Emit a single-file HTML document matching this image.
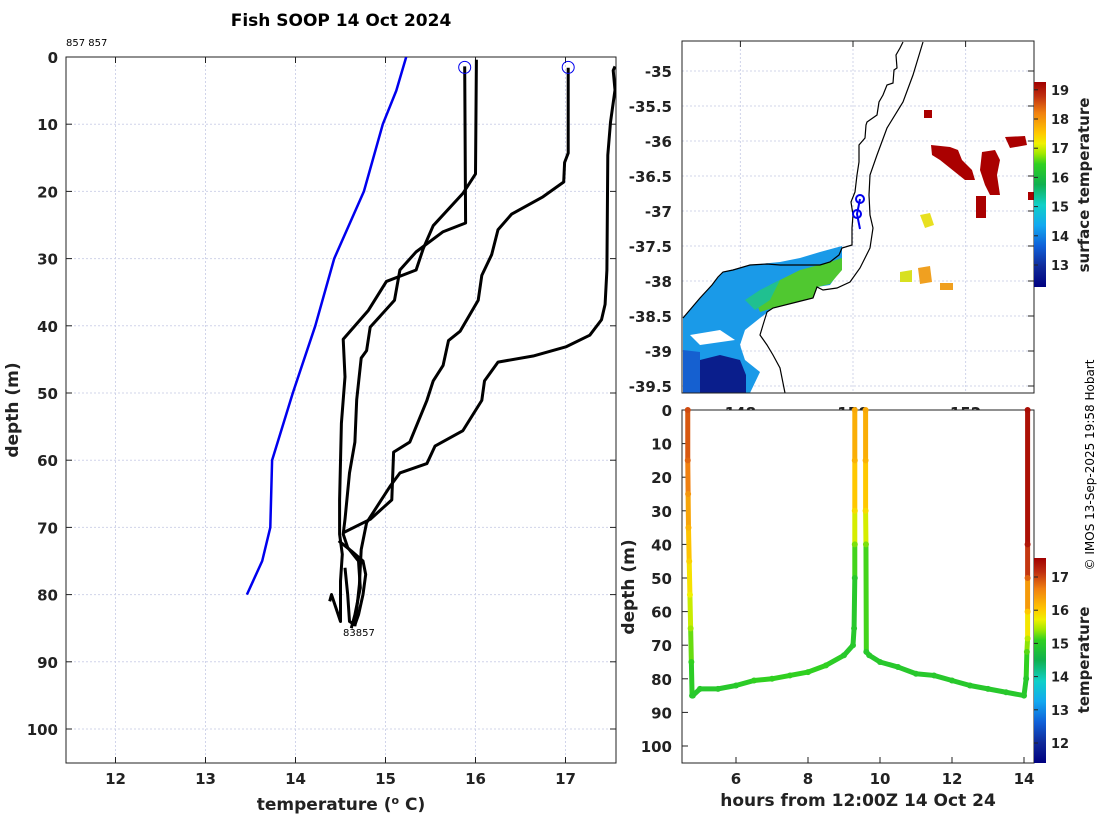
<!DOCTYPE html>
<html><head><meta charset="utf-8">
<style>
html,body{margin:0;padding:0;background:#fff;}
svg{display:block;font-family:"DejaVu Sans","Liberation Sans",sans-serif;}
.tk{font-size:15px;font-weight:bold;fill:#222;}
.lb{font-size:17px;font-weight:bold;fill:#222;}
.grid{stroke:#d0d4ea;stroke-width:1;stroke-dasharray:2,2;}
</style></head>
<body>
<svg id="fig" width="1100" height="820" viewBox="0 0 1100 820">
<defs>
<linearGradient id="jet" x1="0" y1="1" x2="0" y2="0">
<stop offset="0" stop-color="#000080"/><stop offset="0.1" stop-color="#102a9a"/>
<stop offset="0.2" stop-color="#1060d8"/><stop offset="0.3" stop-color="#12a8f0"/>
<stop offset="0.4" stop-color="#10d0c8"/><stop offset="0.5" stop-color="#10b050"/>
<stop offset="0.6" stop-color="#30d020"/><stop offset="0.65" stop-color="#a0e800"/>
<stop offset="0.7" stop-color="#f0f000"/><stop offset="0.75" stop-color="#ffc800"/>
<stop offset="0.85" stop-color="#f08010"/><stop offset="0.93" stop-color="#c03010"/>
<stop offset="1" stop-color="#a00000"/>
</linearGradient>
<clipPath id="clipL"><rect x="66" y="57" width="550" height="706"/></clipPath>
<clipPath id="clipM"><rect x="682" y="41" width="352" height="352"/></clipPath>
</defs>
<text x="341" y="26" text-anchor="middle" style="font-size:17px;font-weight:bold">Fish SOOP 14 Oct 2024</text>
<text x="66" y="46" style="font-size:10px">857 857</text>
<g id="left"></g>
<g id="map"></g>
<g id="br"></g>
<text transform="translate(1094,465) rotate(-90)" text-anchor="middle" style="font-size:12px">© IMOS 13-Sep-2025 19:58 Hobart</text>
</svg>
<script>
// ---------- Left panel data ----------
const blueT=[15.23,15.12,14.97,14.76,14.43,14.22,13.97,13.74,13.72,13.63,13.46];
const blueD=[0,5,10,20,30,40,50,60,70,75,80];
const profAT=[15.88,15.89,15.64,15.34,15.16,15.10,14.83,14.79,14.73,14.68,14.66,14.60,14.55,14.53,14.58,14.70,14.72,14.66,14.62];
const profAD=[1.4,24.7,26,29,31.7,36.2,40.2,43.7,44.8,51,57.3,61.9,68.8,71,73,75,79,83,85];
const profBT=[16.01,16.0,15.86,15.53,15.42,15.34,15.01,14.81,14.53,14.55,14.51,14.49,14.49,14.52,14.50,14.50,14.40,14.38];
const profBD=[0.4,17.4,20.3,25.1,28.5,31.7,33.4,37.7,42,47.6,54.5,65.9,71,74,78,84,80,81];
const profCT=[17.03,17.03,16.99,16.98,16.75,16.40,16.25,16.18,16.07,16.03,15.83,15.70,15.64,15.53,15.46,15.27,15.09,15.07,14.83,14.53];
const profCD=[1.6,14.3,15.7,18.6,20.8,23.4,25.7,29.4,32.5,36.2,40.8,42.2,45.9,48.2,51.1,57.3,58.8,65.9,68.8,70.8];
const profDT=[17.55,17.53,17.55,17.50,17.47,17.46,17.44,17.40,17.27,17.01,16.64,16.25,16.10,16.07,15.86,15.55,15.46,15.16,15.05,14.79,14.73,14.71,14.66];
const profDD=[1.4,2,4.9,9.7,14.6,31.7,36.8,39.1,41.4,43.1,44.5,45.4,48.2,51.1,55.6,57.9,60.5,61.9,63.9,69.3,73.3,78.5,84.7];
const loopT=[14.48,14.62,14.75,14.78,14.75,14.70,14.66,14.60,14.58,14.55];
const loopD=[72,73.5,75,77,80,83,84.5,84,80,76];
const tickT=[12,13,14,15,16,17];
const tickD=[0,10,20,30,40,50,60,70,80,90,100];
const circT=[15.88,17.03];
const circD=[1.4,1.4];

const NS='http://www.w3.org/2000/svg';
function mk(tag,attrs,parent){const e=document.createElementNS(NS,tag);for(const k in attrs)e.setAttribute(k,attrs[k]);parent.appendChild(e);return e;}
const xL=t=>66+(t-11.45)*90;
const yL=d=>57+d*6.72;
const L=document.getElementById('left');
tickT.forEach(t=>{const g=mk('line',{x1:xL(t),x2:xL(t),y1:57,y2:763,class:'grid'},L);

});
tickD.forEach(d=>{const g=mk('line',{x1:66,x2:616,y1:yL(d),y2:yL(d),class:'grid'},L);

});
const fr=mk('rect',{x:66,y:57,width:550,height:706,fill:'none',stroke:'#222','stroke-width':1},L);


tickT.forEach(t=>{mk('line',{x1:xL(t),x2:xL(t),y1:57,y2:63,stroke:'#222'},L);mk('line',{x1:xL(t),x2:xL(t),y1:763,y2:757,stroke:'#222'},L);
const tx=mk('text',{x:xL(t),y:784,'text-anchor':'middle',class:'tk'},L);tx.textContent=t;

});
tickD.forEach(d=>{mk('line',{x1:66,x2:72,y1:yL(d),y2:yL(d),stroke:'#222'},L);mk('line',{x1:616,x2:610,y1:yL(d),y2:yL(d),stroke:'#222'},L);
const tx=mk('text',{x:58,y:yL(d)+6,'text-anchor':'end',class:'tk'},L);tx.textContent=d;

});
function line(T,D,color,w,name){const p=mk('polyline',{points:T.map((t,i)=>xL(t)+','+yL(D[i])).join(' '),fill:'none',stroke:color,'stroke-width':w,'stroke-linejoin':'round','clip-path':'url(#clipL)'},L);

}
line(blueT,blueD,'#0000ee',2.5,'climatology-profile');
line(profAT,profAD,'#000',3,'xbt-profile-a');
line(profBT,profBD,'#000',3,'xbt-profile-b');
line(profCT,profCD,'#000',3,'xbt-profile-c');
line(profDT,profDD,'#000',3,'xbt-profile-d');
line(loopT,loopD,'#000',3,'bottom-loop');
circT.forEach((t,i)=>{const c=mk('circle',{cx:xL(t),cy:yL(circD[i])+1,r:6,fill:'none',stroke:'#0000ee','stroke-width':1},L);

});
const lb1=mk('text',{x:343,y:636,style:'font-size:10px'},L);lb1.textContent='83857';


const xt=mk('text',{x:341,y:810,'text-anchor':'middle',class:'lb'},L);xt.innerHTML='temperature (<tspan dy="-6" style="font-size:11px">o</tspan><tspan dy="6"> C)</tspan>';


const yt=mk('text',{transform:'translate(18,410) rotate(-90)','text-anchor':'middle',class:'lb'},L);yt.textContent='depth (m)';



// ---------- Map panel ----------
const M=document.getElementById('map');
const latTicks=[-35,-35.5,-36,-36.5,-37,-37.5,-38,-38.5,-39,-39.5];
const lonTicks=[148,150,152];
const xM=lon=>853+(lon-150)*56.3;
const yM=lat=>71+(-35-lat)*70;
latTicks.forEach(v=>{const g=mk('line',{x1:682,x2:1034,y1:yM(v),y2:yM(v),class:'grid'},M);


mk('line',{x1:1034,x2:1028,y1:yM(v),y2:yM(v),stroke:'#222'},M);
const tx=mk('text',{x:672,y:yM(v)+6,'text-anchor':'end',class:'tk'},M);tx.textContent=v;

});
lonTicks.forEach(v=>{const g=mk('line',{x1:xM(v),x2:xM(v),y1:41,y2:393,class:'grid'},M);


mk('line',{x1:xM(v),x2:xM(v),y1:41,y2:47,stroke:'#222'},M);
const tx=mk('text',{x:xM(v),y:418,'text-anchor':'middle',class:'tk'},M);tx.textContent=v;

});
const G=mk('g',{'clip-path':'url(#clipM)'},M);
function poly(pts,fill,name){const p=mk('polygon',{points:pts,fill:fill},G);

}
poly('683,318 700,298 712,285 723,272 750,265 780,262 800,258 820,252 842,246 842,268 830,285 817,287 813,298 797,302 773,308 760,318 745,330 740,345 745,360 760,372 750,393 683,393','#1a9ae8','sst-blue-region');
poly('755,300 770,285 800,270 830,262 842,258 842,270 830,284 817,287 813,298 797,302 773,308 760,312','#50c830','sst-green-region');
poly('745,300 760,290 780,280 770,300 755,310','#20c090','sst-teal-region');
poly('690,335 720,330 735,340 700,345','#ffffff','sst-gap');
poly('700,360 720,355 740,360 746,375 746,393 700,393','#0a1e8c','sst-navy-region');
poly('683,350 700,352 700,393 683,393','#1560d0','sst-blue-dark');
poly('931,145 950,147 958,150 962,160 972,170 975,180 965,180 955,172 940,160 932,155','#aa0000','sst-warm-patch-a');
poly('982,152 995,150 1000,160 997,175 1000,195 990,195 985,185 980,170','#aa0000','sst-warm-patch-b');
poly('976,196 986,196 986,218 976,218','#aa0000','sst-warm-patch-c');
poly('1005,137 1025,136 1027,145 1010,148','#aa0000','sst-warm-patch-d');
poly('924,110 932,110 932,118 924,118','#aa0000','sst-warm-patch-e');
poly('920,215 930,213 934,225 925,228','#e8e020','sst-yellow-patch');
poly('918,268 930,266 932,282 920,284','#f0a020','sst-orange-patch');
poly('900,272 912,270 912,282 900,282','#d8e020','sst-yellow-patch-b');
poly('940,283 953,283 953,290 940,290','#f0a020','sst-orange-patch-b');
poly('1028,192 1034,192 1034,200 1028,200','#aa0000','sst-warm-patch-f');
const coast=mk('polyline',{points:'903,42 900,48 896,55 897,68 894,70 893,83 887,85 883,95 879,102 877,115 867,122 866,125 865,138 859,145 859,162 857,175 855,192 851,202 853,215 852,228 852,245 842,248 839,255 830,262 820,265 807,265 780,265 767,264 750,265 733,270 723,272 718,277 712,285 700,298 683,318',fill:'none',stroke:'#000','stroke-width':1.2},G);


const iso=mk('polyline',{points:'923,42 913,75 903,102 887,128 877,155 870,175 869,195 870,215 873,228 870,248 860,268 850,282 837,288 823,290 817,287 813,298 797,302 773,308 767,312 763,325 760,335 767,345 773,355 780,368 785,393',fill:'none',stroke:'#000','stroke-width':1.2},G);


const trk=mk('polyline',{points:'860,199 857,214 860,229',fill:'none',stroke:'#0000ee','stroke-width':2},G);


[[860,199],[857,214]].forEach(p=>{const c=mk('circle',{cx:p[0],cy:p[1],r:4,fill:'none',stroke:'#0000ee','stroke-width':2},G);

});
const mf=mk('rect',{x:682,y:41,width:352,height:352,fill:'none',stroke:'#222'},M);


const cbTicks=[13,14,15,16,17,18,19];
const yCb=t=>265-(t-13)*29.2;
const cb=mk('rect',{x:1034,y:82,width:12,height:205,fill:'url(#jet)'},M);


cbTicks.forEach(t=>{mk('line',{x1:1034,x2:1038,y1:yCb(t),y2:yCb(t),stroke:'#222'},M);
const tx=mk('text',{x:1051,y:yCb(t)+5,class:'tk',style:'font-size:13px'},M);tx.textContent=t;

});
const ct=mk('text',{transform:'translate(1089,185) rotate(-90)','text-anchor':'middle',class:'tk'},M);ct.textContent='surface temperature';



// ---------- Bottom right panel ----------
const seg1H=[4.66,4.66,4.67,4.68,4.70,4.72,4.74,4.76,4.78];
const seg1D=[0,15,25,35,45,55,65,75,85];
const seg1T=[16.8,16.6,16.2,15.9,15.6,15.3,15.0,14.7,14.6];
const seg2H=[4.8,5.0,5.5,6.0,6.5,7.0,7.5,8.0,8.5,9.0,9.25,9.28,9.3,9.3,9.3,9.3,9.3];
const seg2D=[85,83,83,82,80.5,80,79,78,76,73,70,65,50,40,30,15,0];
const seg2T=[14.6,14.6,14.6,14.6,14.7,14.7,14.7,14.7,14.7,14.6,14.6,14.6,14.6,14.9,15.5,15.9,16.0];
const seg3H=[9.6,9.6,9.6,9.61,9.62,9.7,10,10.5,11,11.5,12,12.5,13,13.5,14,14.06,14.08,14.1,14.1,14.1,14.1,14.1];
const seg3D=[0,15,30,40,72,73,75,76.5,78.5,79,80.5,82,83,84,85,80,72,68,60,50,40,0];
const seg3T=[16.0,15.9,15.5,14.9,14.6,14.6,14.6,14.6,14.6,14.6,14.6,14.6,14.6,14.6,14.6,14.6,14.8,15.1,15.7,16.6,17.3,17.4];
const hTicks=[6,8,10,12,14];
const dTicks=[0,10,20,30,40,50,60,70,80,90,100];
const cb2Ticks=[12,13,14,15,16,17];
const xB=h=>682+(h-4.5)*36;
const yB=d=>410+d*3.36;
const cStops=[[11.4,[0,0,128]],[12,[16,42,154]],[12.6,[16,96,216]],[13.2,[18,168,240]],[13.8,[16,208,200]],[14.3,[16,176,80]],[14.7,[48,208,32]],[15.0,[160,232,0]],[15.3,[240,240,0]],[15.7,[255,200,0]],[16.4,[240,128,16]],[17.0,[192,48,16]],[17.55,[160,0,0]]];
function col(t){if(t<=cStops[0][0])return 'rgb('+cStops[0][1]+')';for(let i=1;i<cStops.length;i++){if(t<=cStops[i][0]){const a=cStops[i-1],b=cStops[i],f=(t-a[0])/(b[0]-a[0]);return 'rgb('+a[1].map((v,k)=>Math.round(v+(b[1][k]-v)*f)).join(',')+')';}}return 'rgb(160,0,0)';}
const B=document.getElementById('br');
const bf=mk('rect',{x:682,y:410,width:352,height:353,fill:'#fff',stroke:'#222'},B);


hTicks.forEach(h=>{mk('line',{x1:xB(h),x2:xB(h),y1:763,y2:757,stroke:'#222'},B);
const tx=mk('text',{x:xB(h),y:784,'text-anchor':'middle',class:'tk'},B);tx.textContent=h;

});
dTicks.forEach(d=>{mk('line',{x1:682,x2:688,y1:yB(d),y2:yB(d),stroke:'#222'},B);
const tx=mk('text',{x:672,y:yB(d)+6,'text-anchor':'end',class:'tk'},B);tx.textContent=d;

});
function track(H,D,T,name){const g=mk('g',{},B);


for(let i=0;i<H.length-1;i++){mk('line',{x1:xB(H[i]),y1:yB(D[i]),x2:xB(H[i+1]),y2:yB(D[i+1]),stroke:col((T[i]+T[i+1])/2),'stroke-width':5,'stroke-linecap':'round'},g);}
H.forEach((h,i)=>mk('circle',{cx:xB(h),cy:yB(D[i]),r:3,fill:col(T[i])},g));}
track(seg1H,seg1D,seg1T,'descent-track-1');
track(seg2H,seg2D,seg2T,'bottom-track-1');
track(seg3H,seg3D,seg3T,'bottom-track-2');
const cb2Y=t=>743-(t-12)*33.2;
const cb2=mk('rect',{x:1034,y:558,width:12,height:205,fill:'url(#jet)'},B);


cb2Ticks.forEach(t=>{mk('line',{x1:1034,x2:1038,y1:cb2Y(t),y2:cb2Y(t),stroke:'#222'},B);
const tx=mk('text',{x:1051,y:cb2Y(t)+5,class:'tk',style:'font-size:13px'},B);tx.textContent=t;

});
const c2t=mk('text',{transform:'translate(1089,660) rotate(-90)','text-anchor':'middle',class:'tk'},B);c2t.textContent='temperature';


const bx=mk('text',{x:858,y:806,'text-anchor':'middle',class:'lb'},B);bx.textContent='hours from 12:00Z 14 Oct 24';


const by=mk('text',{transform:'translate(634,587) rotate(-90)','text-anchor':'middle',class:'lb'},B);by.textContent='depth (m)';


</script>
</body></html>
